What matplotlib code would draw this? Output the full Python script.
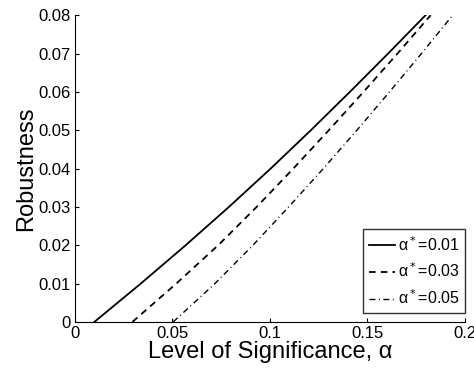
import matplotlib
matplotlib.use('Agg')
import matplotlib.pyplot as plt
from matplotlib.ticker import FuncFormatter

plt.rcParams['font.family'] = ['Liberation Sans', 'DejaVu Sans']

# robustness levels (y) and the significance level where each curve reaches it (x)
robustness = [0.0, 0.01, 0.02, 0.03, 0.04, 0.05, 0.06, 0.07, 0.08]
alpha_001 = [0.0100, 0.0338, 0.0568, 0.0790, 0.1004, 0.1210, 0.1410, 0.1606, 0.1798]
alpha_003 = [0.0295, 0.0520, 0.0735, 0.0932, 0.1120, 0.1302, 0.1480, 0.1654, 0.1824]
alpha_005 = [0.0504, 0.0718, 0.0913, 0.1096, 0.1274, 0.1446, 0.1613, 0.1777, 0.1937]
labels = ['α$^*$=0.01', 'α$^*$=0.03', 'α$^*$=0.05']

fig = plt.figure(figsize=(4.74, 3.70), dpi=100)
ax = fig.add_axes([0.158, 0.130, 0.823, 0.829])

ax.plot(alpha_001, robustness, color='k', linestyle='-', linewidth=1.3, label=labels[0])
ax.plot(alpha_003, robustness, color='k', linestyle=(0, (3.7, 2.8)), linewidth=1.3, label=labels[1])
ax.plot(alpha_005, robustness, color='k', linestyle=(0, (4.3, 2.5, 0.7, 2.5)), linewidth=1.0, label=labels[2])

ax.set_xlim(0, 0.2)
ax.set_ylim(0, 0.08)
ax.set_xticks([0, 0.05, 0.1, 0.15, 0.2])
ax.set_yticks([0, 0.01, 0.02, 0.03, 0.04, 0.05, 0.06, 0.07, 0.08])
ax.xaxis.set_major_formatter(FuncFormatter(lambda v, p: '%g' % round(v, 4)))
ax.yaxis.set_major_formatter(FuncFormatter(lambda v, p: '%g' % round(v, 4)))
ax.tick_params(direction='in', length=3, labelsize=12, width=0.8, pad=3)
ax.spines['top'].set_visible(False)
ax.spines['right'].set_visible(False)

ax.set_xlabel('Level of Significance, α', fontsize=17, labelpad=0)
ax.set_ylabel('Robustness', fontsize=17, labelpad=1)

leg = ax.legend(loc='lower right', bbox_to_anchor=(1.0, 0.03), borderaxespad=0,
                fontsize=11.5, handlelength=1.6, handletextpad=0.2, borderpad=0.35,
                labelspacing=0.5, frameon=True, fancybox=False)
leg.get_frame().set_edgecolor('k')
leg.get_frame().set_linewidth(1.0)

fig.savefig('out.png', dpi=100)
